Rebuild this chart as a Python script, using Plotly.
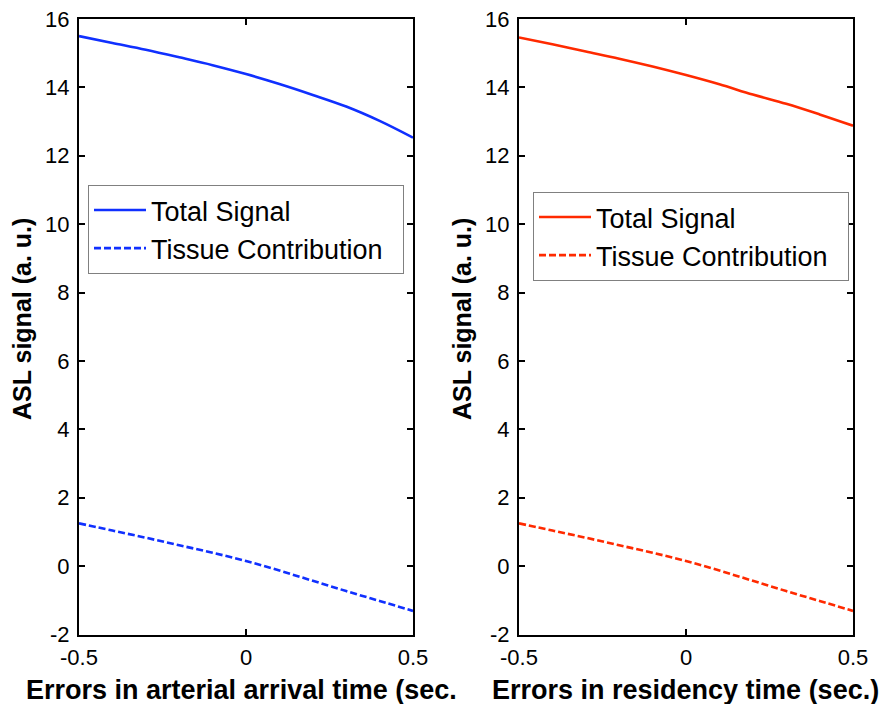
import plotly.graph_objects as go

# Error offsets (sec.) on the horizontal axis
errors = [-0.5, -0.4, -0.3, -0.2, -0.1, 0.0, 0.1, 0.2, 0.3, 0.4, 0.5]

# Arterial arrival time errors
arrival_total = [15.50, 15.30, 15.10, 14.88, 14.65, 14.39, 14.10, 13.78, 13.44, 13.02, 12.53]
arrival_tissue = [1.25, 1.04, 0.83, 0.61, 0.39, 0.15, -0.13, -0.43, -0.73, -1.02, -1.31]

# Residency time errors
residency_total = [15.46, 15.26, 15.05, 14.84, 14.61, 14.36, 14.09, 13.79, 13.52, 13.21, 12.88]
residency_tissue = [1.25, 1.04, 0.83, 0.61, 0.39, 0.15, -0.13, -0.43, -0.73, -1.02, -1.31]

series_names = ["Total Signal", "Tissue Contribution"]
x_tick_vals = [-0.5, 0, 0.5]
x_tick_text = ["-0.5", "0", "0.5"]
y_tick_vals = list(range(-2, 17, 2))
y_tick_text = [str(v) for v in y_tick_vals]

BLUE = "#1030ff"
RED = "#ff2a00"
W, H = 883, 704
FONT = "Liberation Sans, Arial, Helvetica, sans-serif"
# non-breaking spaces keep some room to the right of the legend labels
LEGEND_PAD = "\u00a0\u00a0"

fig = go.Figure()

panels = [
    ("x", "y", "legend", BLUE, arrival_total, arrival_tissue),
    ("x2", "y2", "legend2", RED, residency_total, residency_tissue),
]
for xa, ya, leg, color, total, tissue in panels:
    fig.add_trace(go.Scatter(
        x=errors, y=total, mode="lines", name=series_names[0],
        xaxis=xa, yaxis=ya, legend=leg,
        line=dict(color=color, width=2.6, shape="spline"),
    ))
    fig.add_trace(go.Scatter(
        x=errors, y=tissue, mode="lines", name=series_names[1] + LEGEND_PAD,
        xaxis=xa, yaxis=ya, legend=leg,
        line=dict(color=color, width=2.6, dash="7px,3px", shape="spline"),
    ))

def px_x(p):
    return p / W

def px_y(p):
    return (H - p) / H

axis_common = dict(
    showline=True, linecolor="black", linewidth=2, mirror="ticks",
    ticks="inside", ticklen=6, tickwidth=2, tickcolor="black",
    showgrid=False, zeroline=False, automargin=False,
    tickfont=dict(family=FONT, size=22, color="black"),
)

y_dom = [px_y(634.5), px_y(19)]
fig.update_layout(
    width=W, height=H,
    margin=dict(l=0, r=0, t=0, b=0),
    paper_bgcolor="white", plot_bgcolor="white",
    showlegend=True,
    xaxis=dict(domain=[px_x(79), px_x(413)], range=[-0.5, 0.5],
               tickvals=x_tick_vals, ticktext=x_tick_text,
               ticklabelstandoff=2, **axis_common),
    yaxis=dict(domain=y_dom, range=[-2, 16], tickvals=y_tick_vals,
               ticktext=y_tick_text, ticklabelstandoff=3, **axis_common),
    xaxis2=dict(domain=[px_x(519), px_x(853)], range=[-0.5, 0.5],
                tickvals=x_tick_vals, ticktext=x_tick_text,
                ticklabelstandoff=2, anchor="y2", **axis_common),
    yaxis2=dict(domain=y_dom, range=[-2, 16], tickvals=y_tick_vals,
                ticktext=y_tick_text, ticklabelstandoff=3, anchor="x2",
                **axis_common),
)

legend_common = dict(
    xanchor="left", yanchor="top",
    bgcolor="white", bordercolor="#808080", borderwidth=1,
    font=dict(family=FONT, size=27, color="black"),
    tracegroupgap=0, traceorder="normal",
    itemwidth=52,
)
fig.update_layout(
    legend=dict(x=px_x(88), y=px_y(185), **legend_common),
    legend2=dict(x=px_x(533), y=px_y(192), **legend_common),
)

title_font = dict(family=FONT, size=27, color="black")
ylab_font = dict(family=FONT, size=25, color="black")
annotations = [
    dict(text="<b>Errors in arterial arrival time (sec.</b>", x=px_x(24), y=px_y(707),
         xanchor="left", yanchor="bottom"),
    dict(text="<b>Errors in residency time (sec.)</b>", x=px_x(490), y=px_y(707),
         xanchor="left", yanchor="bottom"),
]
for a in annotations:
    fig.add_annotation(xref="paper", yref="paper", showarrow=False,
                       font=title_font, **a)
for xc in (22, 462):
    fig.add_annotation(text="<b>ASL signal (a. u.)</b>", xref="paper", yref="paper",
                       x=px_x(xc), y=px_y(319), xanchor="center", yanchor="middle",
                       textangle=-90, showarrow=False, font=ylab_font)

fig.write_html("out.html")
